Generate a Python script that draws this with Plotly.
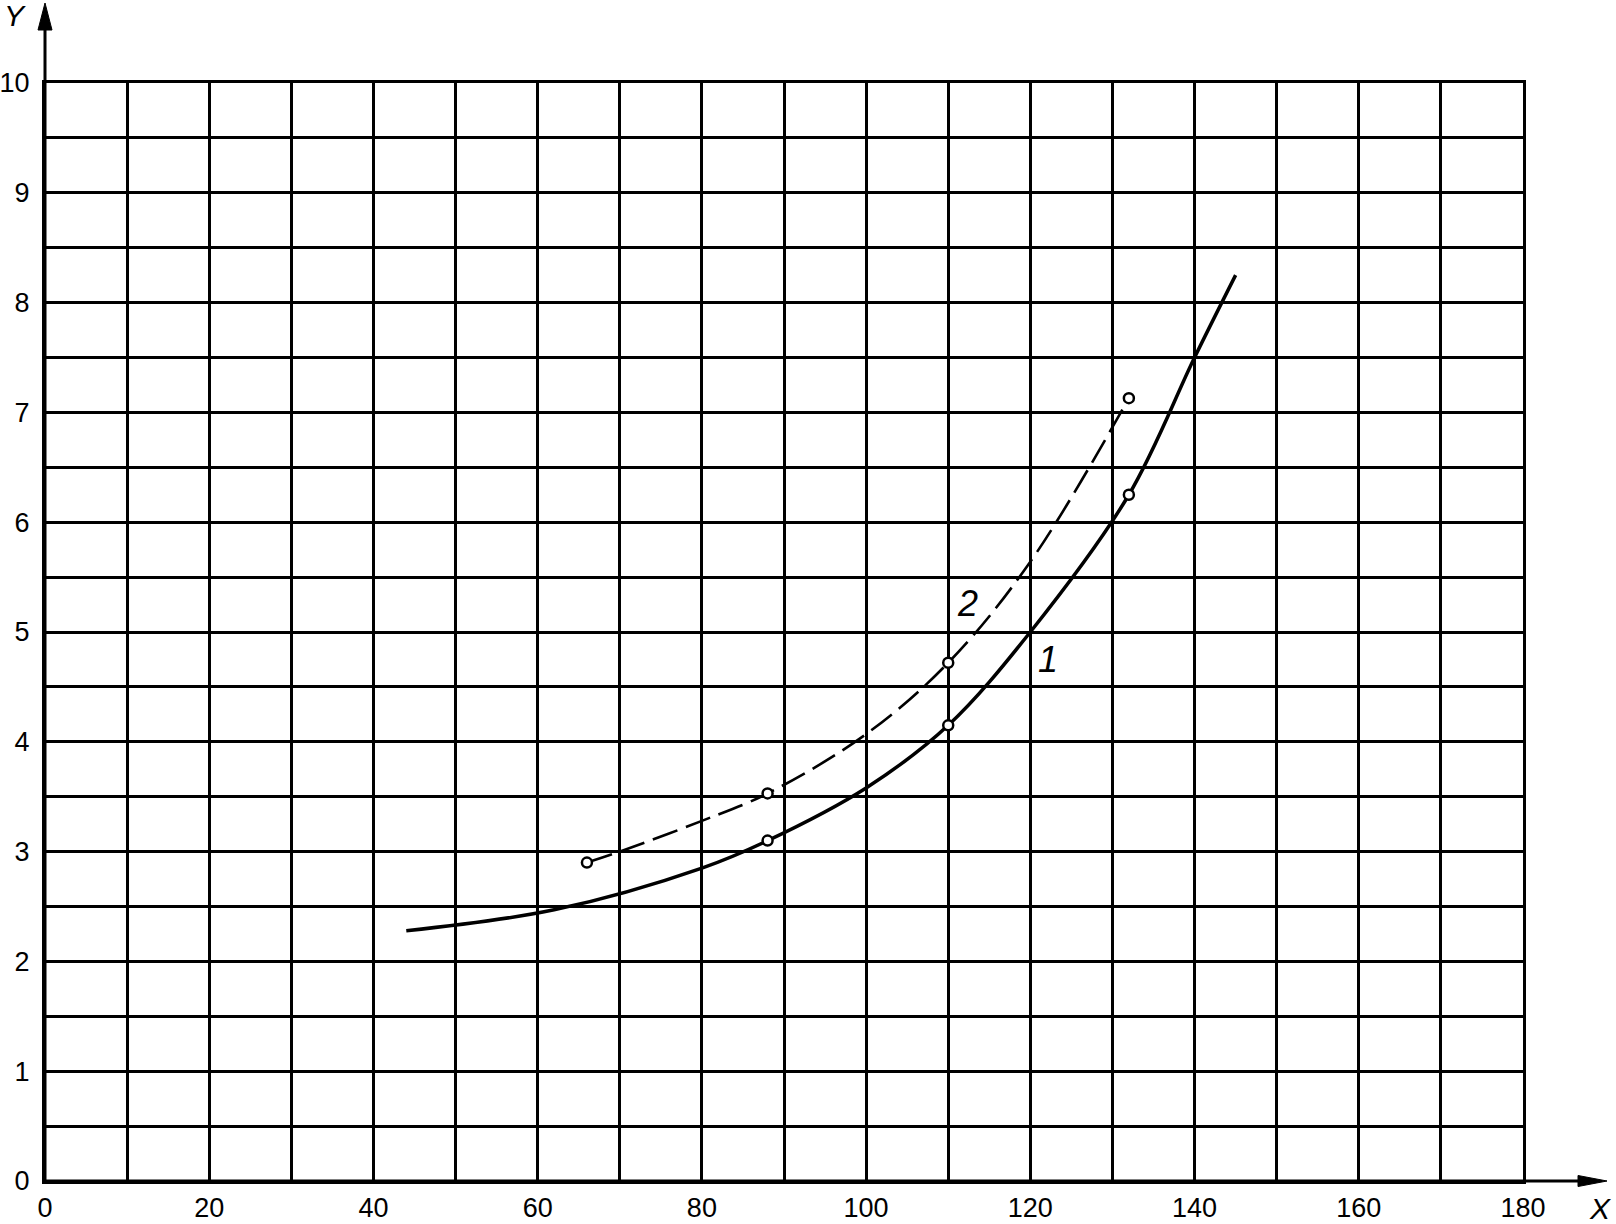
import plotly.graph_objects as go

# ---------------- Data ----------------
curve1_x = [44, 62, 80, 88, 100, 110, 120, 132, 140, 145]
curve1_y = [2.28, 2.47, 2.85, 3.1, 3.58, 4.15, 5.0, 6.25, 7.5, 8.25]

markers1_x = [88, 110, 132]
markers1_y = [3.1, 4.15, 6.25]

curve2_x = [66, 70, 80, 88, 100, 110, 120, 132]
curve2_y = [2.9, 3.0, 3.28, 3.53, 4.07, 4.72, 5.64, 7.13]

markers2_x = [66, 88, 110, 132]
markers2_y = [2.9, 3.53, 4.72, 7.13]

x_ticks = [0, 20, 40, 60, 80, 100, 120, 140, 160, 180]
y_ticks = [0, 1, 2, 3, 4, 5, 6, 7, 8, 9, 10]

# ---------------- Page geometry ----------------
W, H = 1616, 1224
L, R, T, B = 45, 1523, 83, 1181
FONT = "Liberation Sans, Arial, sans-serif"


def px_to_paper(px, py):
    # page pixels -> paper coords
    return (px - L) / (R - L), (B - py) / (B - T)


fig = go.Figure()

fig.add_trace(go.Scatter(
    x=curve1_x, y=curve1_y, mode="lines",
    line=dict(color="black", width=3.5, shape="spline", smoothing=1.0),
    hoverinfo="skip"
))
fig.add_trace(go.Scatter(
    x=curve2_x, y=curve2_y, mode="lines",
    line=dict(color="black", width=2.6, shape="spline", smoothing=1.0,
              dash="26px,9px"),
    hoverinfo="skip"
))
fig.add_trace(go.Scatter(
    x=markers1_x + markers2_x, y=markers1_y + markers2_y, mode="markers",
    marker=dict(symbol="circle", size=10, color="white",
                line=dict(color="black", width=2.5)),
    hoverinfo="skip"
))

# ---------------- Axes ----------------
axis_common = dict(
    showline=True, mirror=True, linecolor="black", linewidth=3,
    showgrid=True, gridcolor="black", gridwidth=2.8,
    zeroline=False, ticks="", automargin=False,
    tickfont=dict(family=FONT, size=27, color="black"),
)
fig.update_xaxes(
    range=[0, 180], tickvals=x_ticks, ticktext=[str(v) for v in x_ticks],
    minor=dict(dtick=10, tick0=0, showgrid=True, gridcolor="black", gridwidth=2.8),
    ticklabelstandoff=1, **axis_common
)
fig.update_yaxes(
    range=[0, 10], tickvals=y_ticks, ticktext=[str(v) for v in y_ticks],
    minor=dict(dtick=0.5, tick0=0, showgrid=True, gridcolor="black", gridwidth=2.8),
    ticklabelstandoff=7, **axis_common
)

# ---------------- Axis arrows ----------------
shapes = []
_, ytip = px_to_paper(45, 3)
_, ybase = px_to_paper(45, 30)
shapes.append(dict(type="line", xref="paper", yref="paper",
                   x0=0, y0=0, x1=0, y1=ybase,
                   line=dict(color="black", width=3)))
hw = 7 / (R - L)
shapes.append(dict(type="path", xref="paper", yref="paper",
                   path=f"M {-hw} {ybase} L {hw} {ybase} L 0 {ytip} Z",
                   fillcolor="black", line=dict(color="black", width=1)))

xtip, _ = px_to_paper(1607, 1181)
xbase, _ = px_to_paper(1578, 1181)
shapes.append(dict(type="line", xref="paper", yref="paper",
                   x0=0, y0=0, x1=xbase, y1=0,
                   line=dict(color="black", width=3)))
hh = 5.5 / (B - T)
shapes.append(dict(type="path", xref="paper", yref="paper",
                   path=f"M {xbase} {-hh} L {xbase} {hh} L {xtip} 0 Z",
                   fillcolor="black", line=dict(color="black", width=1)))

# ---------------- Labels ----------------
annotations = []
yx, yy = px_to_paper(15, 15)
annotations.append(dict(text="<i>Y</i>", xref="paper", yref="paper", x=yx, y=yy,
                        xanchor="center", yanchor="middle",
                        showarrow=False, font=dict(family=FONT, size=30, color="black")))
xx, xy = px_to_paper(1600, 1208)
annotations.append(dict(text="<i>X</i>", xref="paper", yref="paper", x=xx, y=xy,
                        xanchor="center", yanchor="middle",
                        showarrow=False, font=dict(family=FONT, size=30, color="black")))
annotations.append(dict(text="<i>2</i>", x=112.4, y=5.26, showarrow=False,
                        xanchor="center", yanchor="middle",
                        font=dict(family=FONT, size=36, color="black")))
annotations.append(dict(text="<i>1</i>", x=122.2, y=4.75, showarrow=False,
                        xanchor="center", yanchor="middle",
                        font=dict(family=FONT, size=36, color="black")))

fig.update_layout(
    width=W, height=H,
    margin=dict(l=L, r=W - R, t=T, b=H - B, pad=0),
    paper_bgcolor="white", plot_bgcolor="white",
    showlegend=False,
    shapes=shapes,
    annotations=annotations,
)

# drop the default 8px body margin so the figure fills the window exactly
fig.write_html("out.html", config={"displayModeBar": False},
               post_script="document.body.style.margin='0px';")
